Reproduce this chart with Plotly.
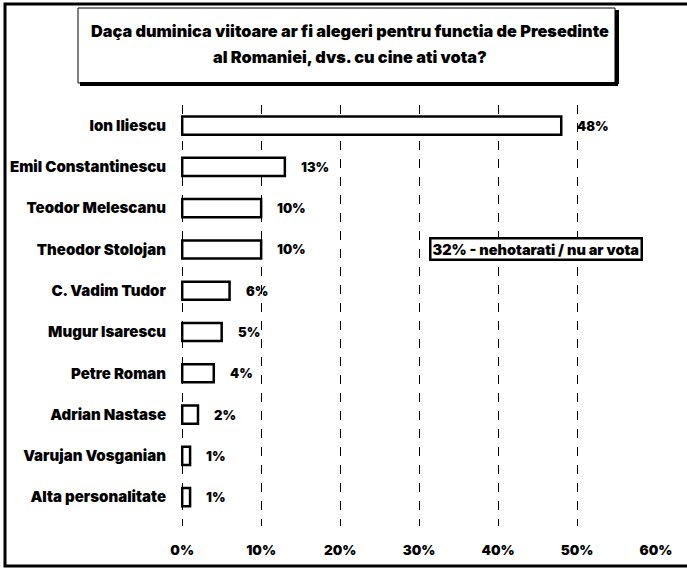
import plotly.graph_objects as go

candidates = ["Ion Iliescu", "Emil Constantinescu", "Teodor Melescanu", "Theodor Stolojan",
              "C. Vadim Tudor", "Mugur Isarescu", "Petre Roman", "Adrian Nastase",
              "Varujan Vosganian", "Alta personalitate"]
values = [48, 13, 10, 10, 6, 5, 4, 2, 1, 1]
value_labels = ["48%", "13%", "10%", "10%", "6%", "5%", "4%", "2%", "1%", "1%"]
tick_vals = [0, 10, 20, 30, 40, 50, 60]
tick_text = ["0%", "10%", "20%", "30%", "40%", "50%", "60%"]
title_lines = ["Daça duminica viitoare ar fi alegeri pentru functia de Presedinte",
               "al Romaniei, dvs. cu cine ati vota?"]
note_text = "32% - nehotarati / nu ar vota"
note_row = "Theodor Stolojan"
note_x = 31.3

W, H = 687, 569
L, R, T, B = 181, 31, 105, 43
PW, PH = W - L - R, H - T - B

def px(x):
    return (x - L) / PW

def py(y):
    return (H - B - y) / PH

FONT = "Inter"
WT = 900

fig = go.Figure()
fig.add_trace(go.Bar(
    x=values, y=candidates, orientation="h",
    marker=dict(color="white", line=dict(color="black", width=2.5)),
    width=0.44, hoverinfo="skip",
))

annotations = []
for c, v, t in zip(candidates, values, value_labels):
    annotations.append(dict(x=v, y=c, xref="x", yref="y", text=t, showarrow=False,
                            xanchor="left", xshift=14,
                            font=dict(family=FONT, size=13, color="black", weight=WT)))

annotations.append(dict(x=note_x, y=note_row, xref="x", yref="y", text=note_text,
                        showarrow=False, xanchor="left", yanchor="middle",
                        bgcolor="white", bordercolor="black", borderwidth=2.5, borderpad=1,
                        font=dict(family=FONT, size=14.5, color="black", weight=WT)))

annotations.append(dict(x=px(350), y=py(31), xref="paper", yref="paper",
                        text=title_lines[0], showarrow=False, xanchor="center", yanchor="middle",
                        font=dict(family=FONT, size=16.3, color="black", weight=WT)))
annotations.append(dict(x=px(350), y=py(57), xref="paper", yref="paper",
                        text=title_lines[1], showarrow=False, xanchor="center", yanchor="middle",
                        font=dict(family=FONT, size=16.3, color="black", weight=WT)))

shapes = [
    dict(type="rect", xref="paper", yref="paper", x0=px(5), x1=px(720), y0=py(566), y1=py(4),
         line=dict(color="black", width=3), layer="below"),
    dict(type="rect", xref="paper", yref="paper", x0=px(78), x1=px(615), y0=py(83), y1=py(8),
         line=dict(color="black", width=1), fillcolor="white", layer="below"),
    dict(type="line", xref="paper", yref="paper", x0=px(80), x1=px(618), y0=py(84), y1=py(84),
         line=dict(color="black", width=4)),
    dict(type="line", xref="paper", yref="paper", x0=px(617), x1=px(617), y0=py(84), y1=py(10),
         line=dict(color="black", width=4)),
]

fig.update_layout(
    width=W, height=H,
    margin=dict(l=L, r=R, t=T, b=B, autoexpand=False),
    paper_bgcolor="white", plot_bgcolor="white",
    showlegend=False,
    annotations=annotations,
    shapes=shapes,
    xaxis=dict(range=[-0.15, 60], tickvals=tick_vals, ticktext=tick_text,
               showgrid=True, gridcolor="black", gridwidth=1.2, griddash="dash",
               zeroline=False, showline=False, ticks="", ticklabelstandoff=14,
               automargin=False,
               tickfont=dict(family=FONT, size=13.5, color="black", weight=WT),
               fixedrange=True),
    yaxis=dict(range=[9.7, -0.5], showgrid=False, zeroline=False, showline=False,
               ticks="", ticklabelstandoff=14, automargin=False,
               tickfont=dict(family=FONT, size=15, color="black", weight=WT),
               fixedrange=True),
    bargap=0.56,
)

fig.write_html("out.html", config={"displayModeBar": False},
               post_script="document.body.style.margin='0';document.body.style.overflow='hidden';")
